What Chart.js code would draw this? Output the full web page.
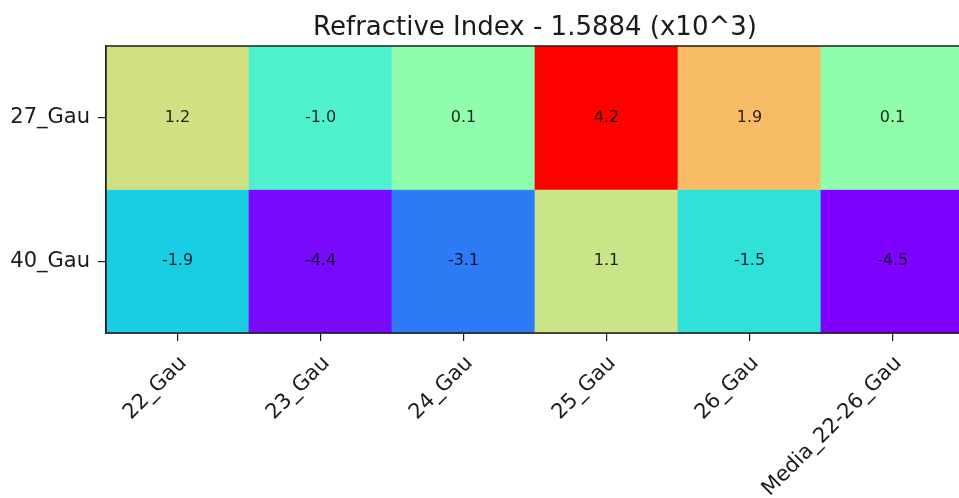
<!DOCTYPE html>
<html>
<head>
<meta charset="utf-8">
<script src="https://cdn.jsdelivr.net/npm/chart.js@4.4.1/dist/chart.umd.min.js"></script>
<style>
  html, body { margin: 0; padding: 0; overflow: hidden; background: #fff; }
  #wrap { width: 970px; height: 498px; }
</style>
</head>
<body>
<div id="wrap"><canvas id="c" width="970" height="498"></canvas></div>
<script>
// Heatmap of refractive-index deviations (x10^3)
const columns = ['22_Gau', '23_Gau', '24_Gau', '25_Gau', '26_Gau', 'Media_22-26_Gau'];
const rows = ['27_Gau', '40_Gau'];
const row27 = [1.2, -1.0, 0.1, 4.2, 1.9, 0.1];
const row40 = [-1.9, -4.4, -3.1, 1.1, -1.5, -4.5];
const titleText = 'Refractive Index - 1.5884 (x10^3)';

const allVals = row27.concat(row40);
const vmin = Math.min(...allVals);
const vmax = Math.max(...allVals);

// "rainbow" colormap: r = |2x - 0.5|, g = sin(pi x), b = cos(pi x / 2)
function rainbow(v) {
  const x = (v - vmin) / (vmax - vmin);
  const clip = t => Math.max(0, Math.min(1, t));
  const r = clip(Math.abs(2 * x - 0.5));
  const g = clip(Math.sin(Math.PI * x));
  const b = clip(Math.cos(Math.PI * x / 2));
  return `rgb(${Math.round(r * 255)},${Math.round(g * 255)},${Math.round(b * 255)})`;
}

// Each row is a band of floating bars on a 0..2 linear scale
const bands = { '27_Gau': [1, 2], '40_Gau': [0, 1] };
const rowValues = { '27_Gau': row27, '40_Gau': row40 };

const datasets = rows.map(name => ({
  label: name,
  data: rowValues[name].map(() => bands[name].slice()),
  values: rowValues[name],
  backgroundColor: rowValues[name].map(rainbow),
  borderWidth: 0,
  barPercentage: 1,
  categoryPercentage: 1,
  grouped: false
}));

const axisColor = '#1e1e1e';

const cellText = {
  id: 'cellText',
  afterDatasetsDraw(chart) {
    const ctx = chart.ctx;
    ctx.save();
    ctx.font = '16px "DejaVu Sans"';
    ctx.fillStyle = 'rgba(0,0,0,0.85)';
    ctx.textAlign = 'center';
    ctx.textBaseline = 'middle';
    chart.data.datasets.forEach((ds, i) => {
      chart.getDatasetMeta(i).data.forEach((el, j) => {
        ctx.fillText(ds.values[j].toFixed(1), el.x, (el.y + el.base) / 2);
      });
    });
    ctx.restore();
  }
};

// Axes frame on top of the cells, plus the title centred over the plot
const frameAndTitle = {
  id: 'frameAndTitle',
  afterDraw(chart) {
    const { ctx, chartArea: a } = chart;
    ctx.save();
    ctx.strokeStyle = axisColor;
    ctx.lineWidth = 1.5;
    ctx.strokeRect(a.left, a.top, a.right - a.left, a.bottom - a.top);
    ctx.font = '26px "DejaVu Sans"';
    ctx.fillStyle = '#1a1a1a';
    ctx.textAlign = 'center';
    ctx.textBaseline = 'alphabetic';
    ctx.fillText(titleText, (a.left + a.right) / 2, 35);
    ctx.restore();
  }
};

new Chart(document.getElementById('c'), {
  type: 'bar',
  data: { labels: columns, datasets },
  options: {
    responsive: false,
    animation: false,
    layout: { padding: { top: 46, right: 6, left: 0, bottom: 0 } },
    plugins: { legend: { display: false }, tooltip: { enabled: false }, title: { display: false } },
    scales: {
      x: {
        type: 'category',
        offset: true,
        grid: { offset: false, drawOnChartArea: false, drawTicks: true, tickLength: 8, color: axisColor, lineWidth: 1.2 },
        border: { display: true, color: axisColor, width: 1.5 },
        ticks: {
          autoSkip: false, minRotation: 45, maxRotation: 45, padding: 10, labelOffset: 6,
          color: '#1a1a1a', font: { family: 'DejaVu Sans', size: 21 }
        },
        afterFit(scale) { scale.height = 165; }
      },
      y: {
        type: 'linear',
        min: 0, max: 2,
        grid: { drawOnChartArea: false, drawTicks: true, tickLength: 8, color: axisColor, lineWidth: 1.2 },
        border: { display: true, color: axisColor, width: 1.5 },
        afterBuildTicks(scale) {
          scale.ticks = [{ value: 0.5 }, { value: 1.5 }];
        },
        ticks: {
          padding: 8,
          color: '#1a1a1a', font: { family: 'DejaVu Sans', size: 21 },
          callback: v => (v < 1 ? rows[1] : rows[0])
        },
        afterFit(scale) { scale.width = 106; }
      }
    }
  },
  plugins: [cellText, frameAndTitle]
});
</script>
</body>
</html>
